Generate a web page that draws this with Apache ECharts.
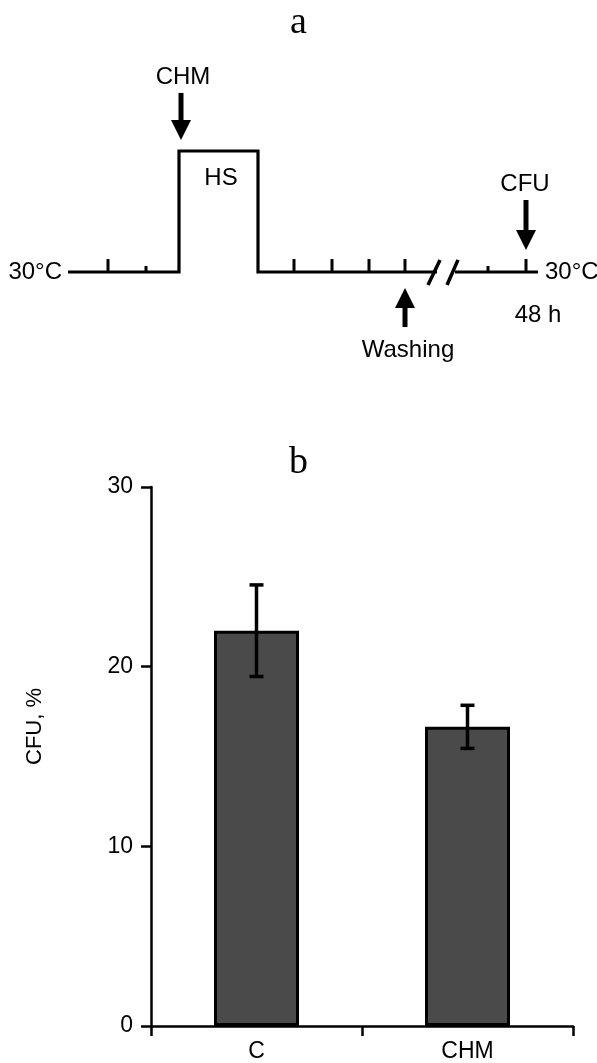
<!DOCTYPE html>
<html>
<head>
<meta charset="utf-8">
<script src="https://cdn.jsdelivr.net/npm/echarts@6/dist/echarts.min.js"></script>
<style>
  html, body { margin: 0; padding: 0; background: #fff; }
  #chart { width: 597px; height: 1063px; }
</style>
</head>
<body>
<div id="chart"></div>
<script>
// panel b: CFU after heat shock
var categories = ["C", "CHM"];
var cfuMean = [22.0, 16.65];
var cfuErr = [2.55, 1.2];

// panel a: protocol scheme (x = position along the time line, y = level: 0 = 30°C, 1 = HS)
var stepLine = [[68, 0], [179, 0], [179, 1], [258, 1], [258, 0], [437, 0]];
var afterBreak = [[455, 0], [538, 0]];
var tallTicks = [108, 294, 332, 369, 405, 526];
var shortTicks = [146, 488];
var breakMarks = [[428, 440], [447, 458]];
var arrows = [[181, 1.48, 1.09], [526, 0.595, 0.182], [405, -0.455, -0.132]]; // x, tail, tip
var noteText = ["CHM", "HS", "CFU", "30°C", "30°C", "48 h", "Washing"];
var notePos = [[183, 1.61], [221, 0.777], [525, 0.727], [62, 0], [545, 0], [538, -0.355], [408, -0.645]];
var noteAlign = ["center", "center", "center", "right", "left", "center", "center"];

var FONT = "'Liberation Sans', Arial, sans-serif";
var chart = echarts.init(document.getElementById("chart"));

function renderTick(h) {
  return function (params, api) {
    var p0 = api.coord([api.value(0), 0]);
    var p1 = api.coord([api.value(0), h]);
    return { type: "line", shape: { x1: p0[0], y1: p0[1], x2: p1[0], y2: p1[1] },
      style: { stroke: "#000", lineWidth: 3 } };
  };
}

var option = {
  animation: false,
  backgroundColor: "#fff",
  title: [
    { text: "a", left: "center", top: 4, padding: 0,
      textStyle: { fontFamily: "'Liberation Serif', 'Times New Roman', serif", fontSize: 38, fontWeight: "normal", color: "#000" } },
    { text: "b", left: "center", top: 444, padding: 0,
      textStyle: { fontFamily: "'Liberation Serif', 'Times New Roman', serif", fontSize: 38, fontWeight: "normal", color: "#000" } }
  ],
  grid: [
    { left: 151, right: 24, top: 487, bottom: 36 },
    { left: 0, right: 0, top: 151, height: 121 }
  ],
  xAxis: [
    { type: "category", data: categories, gridIndex: 0,
      axisLine: { show: true, lineStyle: { color: "#000", width: 2.5 } },
      axisTick: { show: true, alignWithLabel: false, length: 10, lineStyle: { color: "#000", width: 2.5 } },
      axisLabel: { color: "#000", fontSize: 23, fontFamily: FONT, margin: 14 } },
    { type: "value", gridIndex: 1, min: 0, max: 597, show: false }
  ],
  yAxis: [
    { type: "value", gridIndex: 0, min: 0, max: 30, interval: 10,
      name: "CFU, %", nameLocation: "middle", nameGap: 105,
      nameTextStyle: { color: "#000", fontSize: 22, fontFamily: FONT, padding: [0, 0, 0, 60] },
      axisLine: { show: true, lineStyle: { color: "#000", width: 2.5 } },
      axisTick: { show: true, length: 10, lineStyle: { color: "#000", width: 2.5 } },
      axisLabel: { color: "#000", fontSize: 23, fontFamily: FONT, margin: 18 },
      splitLine: { show: false } },
    { type: "value", gridIndex: 1, min: 0, max: 1, show: false }
  ],
  series: [
    {
      type: "bar", data: cfuMean, barWidth: 85,
      itemStyle: { color: "#4a4a4a", borderColor: "#000", borderWidth: 3 }
    },
    {
      type: "custom", xAxisIndex: 0, yAxisIndex: 0, z: 5,
      data: cfuMean.map(function (m, i) { return [i, m - cfuErr[i], m + cfuErr[i]]; }),
      renderItem: function (params, api) {
        var lo = api.coord([api.value(0), api.value(1)]);
        var hi = api.coord([api.value(0), api.value(2)]);
        var s = { stroke: "#000", lineWidth: 3.5 };
        return { type: "group", children: [
          { type: "line", shape: { x1: lo[0], y1: lo[1], x2: hi[0], y2: hi[1] }, style: s },
          { type: "line", shape: { x1: lo[0] - 7, y1: lo[1], x2: lo[0] + 7, y2: lo[1] }, style: s },
          { type: "line", shape: { x1: hi[0] - 7, y1: hi[1], x2: hi[0] + 7, y2: hi[1] }, style: s }
        ] };
      }
    },
    // scheme
    { type: "line", xAxisIndex: 1, yAxisIndex: 1, data: stepLine, symbol: "none", clip: false,
      lineStyle: { color: "#000", width: 3.2, join: "miter" } },
    { type: "line", xAxisIndex: 1, yAxisIndex: 1, data: afterBreak, symbol: "none", clip: false,
      lineStyle: { color: "#000", width: 3.2 } },
    { type: "custom", xAxisIndex: 1, yAxisIndex: 1, clip: false,
      data: tallTicks.map(function (x) { return [x, 0]; }), renderItem: renderTick(0.107) },
    { type: "custom", xAxisIndex: 1, yAxisIndex: 1, clip: false,
      data: shortTicks.map(function (x) { return [x, 0]; }), renderItem: renderTick(0.05) },
    { type: "custom", xAxisIndex: 1, yAxisIndex: 1, clip: false,
      data: breakMarks,
      renderItem: function (params, api) {
        var p0 = api.coord([api.value(0), -0.107]);
        var p1 = api.coord([api.value(1), 0.1]);
        return { type: "line", shape: { x1: p0[0], y1: p0[1], x2: p1[0], y2: p1[1] },
          style: { stroke: "#000", lineWidth: 3.5 } };
      } },
    { type: "custom", xAxisIndex: 1, yAxisIndex: 1, clip: false,
      data: arrows,
      renderItem: function (params, api) {
        var tail = api.coord([api.value(0), api.value(1)]);
        var tip = api.coord([api.value(0), api.value(2)]);
        var dir = tip[1] > tail[1] ? 1 : -1;
        var base = tip[1] - dir * 20;
        return { type: "group", children: [
          { type: "line", shape: { x1: tail[0], y1: tail[1], x2: tail[0], y2: base }, style: { stroke: "#000", lineWidth: 5 } },
          { type: "polygon", shape: { points: [[tip[0] - 10, base], [tip[0] + 10, base], [tip[0], tip[1]]] }, style: { fill: "#000" } }
        ] };
      } },
    { type: "custom", xAxisIndex: 1, yAxisIndex: 1, clip: false,
      data: notePos,
      renderItem: function (params, api) {
        var p = api.coord([api.value(0), api.value(1)]);
        return { type: "text", x: p[0], y: p[1],
          style: { text: noteText[params.dataIndex], fill: "#000", font: "24px " + FONT,
            textAlign: noteAlign[params.dataIndex], textVerticalAlign: "middle" } };
      } }
  ]
};
chart.setOption(option);
</script>
</body>
</html>
